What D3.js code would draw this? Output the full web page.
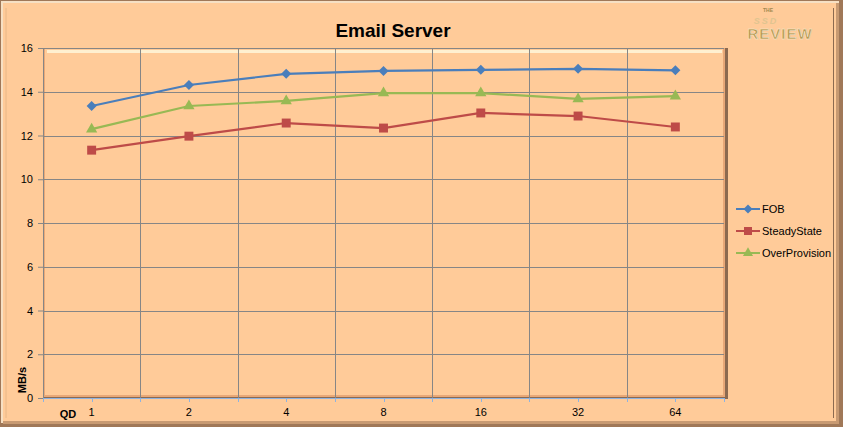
<!DOCTYPE html>
<html>
<head>
<meta charset="utf-8">
<script src="https://cdn.jsdelivr.net/npm/d3@7"></script>
<style>
  body { margin: 0; background: #fff; }
  svg { display: block; font-family: "Liberation Sans", Arial, sans-serif; }
</style>
</head>
<body>
<svg width="843" height="427"></svg>
<script>
var categories = ["1", "2", "4", "8", "16", "32", "64"];
var fob = [13.35, 14.31, 14.82, 14.95, 15.0, 15.05, 14.98];
var steadyState = [11.33, 11.97, 12.57, 12.34, 13.03, 12.89, 12.39];
var overProvision = [12.29, 13.35, 13.58, 13.94, 13.94, 13.67, 13.8];
var yTicks = [0, 2, 4, 6, 8, 10, 12, 14, 16];

// diamond = square turned 45 degrees
var series = [
  {name: "FOB", values: fob, color: "#4a7ebb", shape: d3.symbolSquare, size: 50, rot: 45},
  {name: "SteadyState", values: steadyState, color: "#be4b48", shape: d3.symbolSquare, size: 80, rot: 0},
  {name: "OverProvision", values: overProvision, color: "#98b954", shape: d3.symbolTriangle, size: 55, rot: 0}
];

var svg = d3.select("svg"),
  margin = {top: 48, right: 119, bottom: 29, left: 43},
  width = +svg.attr("width") - margin.left - margin.right,
  height = +svg.attr("height") - margin.top - margin.bottom;

// outer chart frame with bevel
svg.append("rect").attr("width", 843).attr("height", 427).attr("fill", "#a07858");
svg.append("rect").attr("x", 1).attr("y", 1).attr("width", 838).attr("height", 422).attr("fill", "#f6e0c4");
svg.append("rect").attr("x", 3).attr("y", 3).attr("width", 836).attr("height", 421).attr("fill", "#c89a72");
svg.append("rect").attr("x", 3).attr("y", 3).attr("width", 833).attr("height", 418).attr("fill", "#ffcb99");
svg.append("line").attr("x1", 6).attr("x2", 6).attr("y1", 8).attr("y2", 418).attr("stroke", "#e8b888").attr("stroke-width", 1);

var x = d3.scaleBand().domain(categories).range([0, width]);
var y = d3.scaleLinear().domain([0, 16]).range([height, 0]);

var g = svg.append("g")
  .attr("transform", "translate(" + margin.left + "," + margin.top + ")");

// plot area bevel
g.append("rect").attr("x", 0).attr("y", 0).attr("width", width + 4).attr("height", height + 1)
  .attr("fill", "#8c6a50");
g.append("rect").attr("x", 0).attr("y", 0).attr("width", width + 1).attr("height", height - 1)
  .attr("fill", "#e8a878");
g.append("rect").attr("x", 2).attr("y", 1).attr("width", width - 3).attr("height", height - 4)
  .attr("fill", "#ffcb99");
g.append("rect").attr("x", 4).attr("y", 2).attr("width", width - 6).attr("height", 3)
  .attr("fill", "#fff0d0");

// gridlines
g.selectAll(".hgrid").data(yTicks.filter(function(d){ return d > 0; }))
  .enter().append("line")
  .attr("x1", 0).attr("x2", width)
  .attr("y1", function(d){ return Math.round(y(d)) + 0.5; })
  .attr("y2", function(d){ return Math.round(y(d)) + 0.5; })
  .attr("stroke", "#868686").attr("stroke-width", 1);

g.selectAll(".vgrid").data(categories.slice(1))
  .enter().append("line")
  .attr("x1", function(d){ return Math.round(x(d)) + 0.5; })
  .attr("x2", function(d){ return Math.round(x(d)) + 0.5; })
  .attr("y1", 0).attr("y2", height)
  .attr("stroke", "#868686").attr("stroke-width", 1);

// axes
var yAxis = g.append("g")
  .call(d3.axisLeft(y).tickValues(yTicks).tickSize(5).tickSizeOuter(0));
yAxis.select(".domain").attr("stroke", "#868686");
yAxis.selectAll(".tick line").attr("stroke", "#868686");
yAxis.selectAll("text").attr("font-size", 11).attr("fill", "#000").attr("dx", "-2");

var xAxis = g.append("g")
  .attr("transform", "translate(0," + height + ")")
  .call(d3.axisBottom(x).tickSize(0));
xAxis.select(".domain").attr("stroke", "#8db3e2");
xAxis.selectAll("text").attr("font-size", 11).attr("fill", "#000").attr("dy", "1.35em");

// small ticks on x axis: category centres and boundaries
var tickPos = [];
categories.forEach(function(c){ tickPos.push(x(c)); tickPos.push(x(c) + x.bandwidth() / 2); });
tickPos.push(width);
g.selectAll(".xtick").data(tickPos).enter().append("line")
  .attr("x1", function(d){ return Math.round(d) + 0.5; })
  .attr("x2", function(d){ return Math.round(d) + 0.5; })
  .attr("y1", height).attr("y2", height + 4)
  .attr("stroke", "#8db3e2");

// series
var line = d3.line()
  .x(function(d, i){ return x(categories[i]) + x.bandwidth() / 2; })
  .y(function(d){ return y(d); });

series.forEach(function(s) {
  g.append("path").datum(s.values)
    .attr("fill", "none").attr("stroke", s.color).attr("stroke-width", 2.2)
    .attr("d", line);
  g.selectAll(null).data(s.values).enter().append("path")
    .attr("d", d3.symbol().type(s.shape).size(s.size))
    .attr("transform", function(d, i){
      return "translate(" + (x(categories[i]) + x.bandwidth() / 2) + "," + y(d) + ") rotate(" + s.rot + ")";
    })
    .attr("fill", s.color);
});

// title
svg.append("text").attr("x", 393).attr("y", 37).attr("text-anchor", "middle")
  .attr("font-size", 19).attr("font-weight", "bold").text("Email Server");

// axis titles
svg.append("text").attr("transform", "translate(26,380) rotate(-90)")
  .attr("text-anchor", "middle").attr("font-size", 11).attr("font-weight", "bold").text("MB/s");
svg.append("text").attr("x", 68).attr("y", 418).attr("text-anchor", "middle")
  .attr("font-size", 11).attr("font-weight", "bold").text("QD");

// legend area right border
svg.append("line").attr("x1", 833.5).attr("x2", 833.5).attr("y1", 8).attr("y2", 418)
  .attr("stroke", "#8c6a50");

var legend = svg.append("g").attr("transform", "translate(736,209)");
series.forEach(function(s, i) {
  var lg = legend.append("g").attr("transform", "translate(0," + (i * 22) + ")");
  lg.append("line").attr("x1", 0).attr("x2", 24).attr("stroke", s.color).attr("stroke-width", 2);
  lg.append("path").attr("d", d3.symbol().type(s.shape).size(s.size * 0.8))
    .attr("transform", "translate(12,0) rotate(" + s.rot + ")").attr("fill", s.color);
  lg.append("text").attr("x", 26).attr("y", 4).attr("font-size", 11).text(s.name);
});

// logo
var logo = svg.append("g").attr("transform", "translate(780,0)");
logo.append("text").attr("x", -12).attr("y", 12).attr("text-anchor", "middle")
  .attr("font-size", 5).attr("font-weight", "bold").attr("fill", "#a08850").text("THE");
logo.append("text").attr("x", -14).attr("y", 24).attr("text-anchor", "middle")
  .attr("font-size", 9).attr("font-weight", "bold").attr("fill", "#e0c490").attr("font-style", "italic")
  .attr("letter-spacing", 2).text("SSD");
logo.append("text").attr("x", 0).attr("y", 39).attr("text-anchor", "middle")
  .attr("font-size", 15).attr("font-weight", "bold").attr("fill", "#b89850")
  .attr("stroke", "#f0e8d8").attr("stroke-width", 0.5).attr("letter-spacing", 1).text("REVIEW");
</script>
</body>
</html>
